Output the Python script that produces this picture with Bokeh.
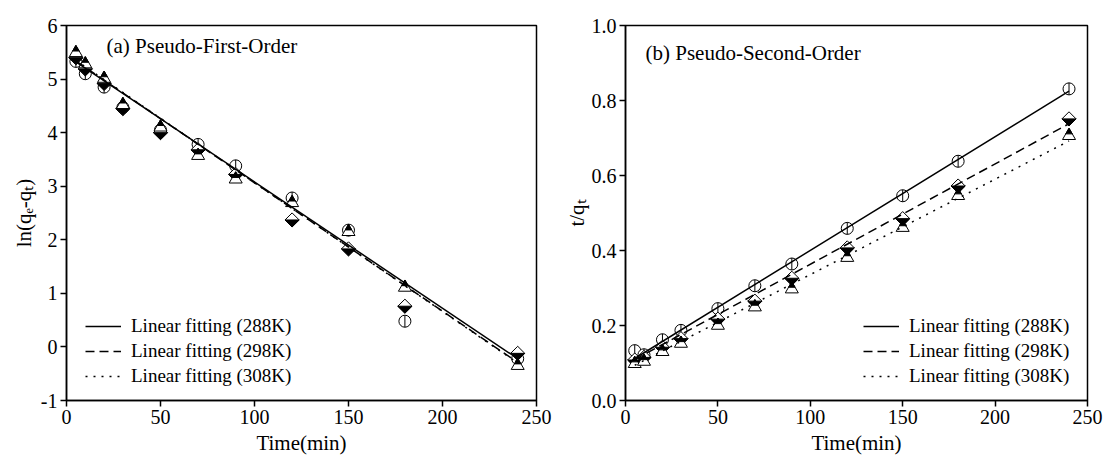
import math
from bokeh.plotting import figure
from bokeh.models import Range1d, FixedTicker, Legend, LegendItem, Label
from bokeh.layouts import row
from bokeh.embed import file_html
from bokeh.resources import INLINE

FONT = "Liberation Serif"

# ---------------- data ----------------
time = [5, 10, 20, 30, 50, 70, 90, 120, 150, 180, 240]

# (a) pseudo-first-order: ln(qe - qt)
pfo_288 = [5.33, 5.10, 4.85, 4.47, 4.05, 3.78, 3.38, 2.78, 2.18, 0.48, -0.22]
pfo_298 = [5.40, 5.19, 4.92, 4.45, 4.00, 3.68, 3.22, 2.37, 1.83, 0.76, -0.12]
pfo_308 = [5.49, 5.28, 5.01, 4.52, 4.10, 3.57, 3.13, 2.69, 2.15, 1.11, -0.35]

# (b) pseudo-second-order: t/qt
pso_288 = [0.133, 0.122, 0.162, 0.187, 0.245, 0.306, 0.364, 0.459, 0.546, 0.638, 0.831]
pso_298 = [0.108, 0.115, 0.142, 0.165, 0.217, 0.265, 0.326, 0.407, 0.485, 0.572, 0.751]
pso_308 = [0.098, 0.104, 0.130, 0.152, 0.200, 0.249, 0.297, 0.381, 0.461, 0.546, 0.706]

# linear fitting lines (end points)
fit_time = [5, 240]
pfo_fit_288 = [5.32, -0.22]
pfo_fit_298 = [5.34, -0.29]
pfo_fit_308 = [5.35, -0.30]
pso_fit_288 = [0.112, 0.825]
pso_fit_298 = [0.109, 0.738]
pso_fit_308 = [0.094, 0.692]

series_labels = ["Linear fitting (288K)", "Linear fitting (298K)", "Linear fitting (308K)"]

x_ticks = [0, 50, 100, 150, 200, 250]
pfo_y_ticks = [-1, 0, 1, 2, 3, 4, 5, 6]
pfo_y_tick_labels = ["-1", "0", "1", "2", "3", "4", "5", "6"]
pso_y_ticks = [0.0, 0.2, 0.4, 0.6, 0.8, 1.0]
pso_y_tick_labels = ["0.0", "0.2", "0.4", "0.6", "0.8", "1.0"]

titles = ["(a) Pseudo-First-Order", "(b) Pseudo-Second-Order"]
x_label = "Time(min)"
pfo_y_label = "ln(q\u2091-q\u209c)"
pso_y_label = "t/q\u209c"


def make_fig(width, bl, br, bt, bb, xr, yr, yticks, ytick_labels, ylabel, ylabel_standoff):
    p = figure(width=width, height=466, output_backend="svg", toolbar_location=None,
               x_range=Range1d(*xr), y_range=Range1d(*yr),
               min_border_left=bl, min_border_right=br,
               min_border_top=bt, min_border_bottom=bb)
    p.xgrid.visible = False
    p.ygrid.visible = False
    p.outline_line_color = "black"
    p.outline_line_width = 1.5
    p.background_fill_color = "white"
    p.border_fill_color = "white"
    p.xaxis.ticker = FixedTicker(ticks=x_ticks)
    p.yaxis.ticker = FixedTicker(ticks=yticks)
    p.yaxis.major_label_overrides = {t: lab for t, lab in zip(yticks, ytick_labels)}
    p.xaxis.axis_label = x_label
    p.yaxis.axis_label = ylabel
    for ax in (p.xaxis[0], p.yaxis[0]):
        ax.axis_line_width = 1.5
        ax.axis_line_color = "black"
        ax.major_tick_out = 6
        ax.major_tick_in = 0
        ax.major_tick_line_width = 1.5
        ax.major_tick_line_color = "black"
        ax.minor_tick_out = 0
        ax.minor_tick_in = 0
        ax.major_label_text_font = FONT
        ax.major_label_text_font_size = "20px"
        ax.major_label_text_color = "black"
        ax.axis_label_text_font = FONT
        ax.axis_label_text_font_size = "21px"
        ax.axis_label_text_font_style = "normal"
        ax.axis_label_text_color = "black"
        ax.major_label_standoff = 3
    p.xaxis.axis_label_standoff = 4
    p.yaxis.axis_label_standoff = ylabel_standoff
    return p


def draw_markers(p, t, y, kind, sx, sy):
    if kind == "circle":
        p.scatter(t, y, marker="circle", size=12, fill_color="white",
                  line_color="black", line_width=1)
        p.scatter(t, y, marker="dash", angle=math.pi / 2, size=12,
                  line_color="black", line_width=1)
    elif kind == "diamond":
        half = 7.07
        p.scatter(t, y, marker="square", angle=math.pi / 4, size=10,
                  fill_color="white", line_color="black", line_width=1)
        xs = [[ti - half / sx, ti + half / sx, ti] for ti in t]
        ys = [[v, v, v - half / sy] for v in y]
        p.patches(xs, ys, fill_color="black", line_color="black", line_width=1)
    else:
        size = 13.0
        h = size * math.sqrt(3) / 2
        p.scatter(t, y, marker="triangle", size=size, fill_color="white",
                  line_color="black", line_width=1)
        yy = [v + (h / 3) / sy for v in y]
        p.scatter(t, yy, marker="triangle", size=size / 2, fill_color="black",
                  line_color="black", line_width=1)


def draw_panel(p, ys, fits, sx, sy, legend_loc, title, title_xy):
    for vals, kind in zip(ys, ["circle", "diamond", "triangle"]):
        draw_markers(p, time, vals, kind, sx, sy)
    renderers = []
    for fy, dash in zip(fits, ["solid", "9 5", "2 6"]):
        r = p.line(fit_time, fy, line_color="black", line_width=1.5, line_dash=dash)
        renderers.append(r)
    legend = Legend(items=[LegendItem(label=lab, renderers=[r]) for lab, r in zip(series_labels, renderers)],
                    location=legend_loc, label_text_font=FONT, label_text_font_size="19px",
                    label_text_color="black",
                    glyph_width=36, glyph_height=20, label_height=20, label_standoff=10,
                    spacing=3, padding=0, margin=0, border_line_alpha=0,
                    background_fill_alpha=0)
    p.add_layout(legend)
    p.add_layout(Label(x=title_xy[0], y=title_xy[1], x_units="screen", y_units="screen",
                       text=title, text_font=FONT, text_font_size="21px",
                       text_baseline="middle", text_align="left", text_color="black"))


# left panel: frame 66..536 x 17..400
p1 = make_fig(560, 66, 24, 17, 66, (0, 250), (-1, 6), pfo_y_ticks, pfo_y_tick_labels, pfo_y_label, 2)
sx1 = 470 / 250.0
sy1 = 383 / 7.0
draw_panel(p1, [pfo_288, pfo_298, pfo_308], [pfo_fit_288, pfo_fit_298, pfo_fit_308],
           sx1, sy1, (19, 13), titles[0], (40, 355))

# right panel: frame 625..1087 x 25..400
p2 = make_fig(544, 65, 17, 25, 66, (0, 250), (0, 1.0), pso_y_ticks, pso_y_tick_labels, pso_y_label, 0)
sx2 = 462 / 250.0
sy2 = 375 / 1.0
draw_panel(p2, [pso_288, pso_298, pso_308], [pso_fit_288, pso_fit_298, pso_fit_308],
           sx2, sy2, (238, 13), titles[1], (20, 348))

layout = row(p1, p2, spacing=0)
open("out.html", "w").write(file_html(layout, INLINE))
